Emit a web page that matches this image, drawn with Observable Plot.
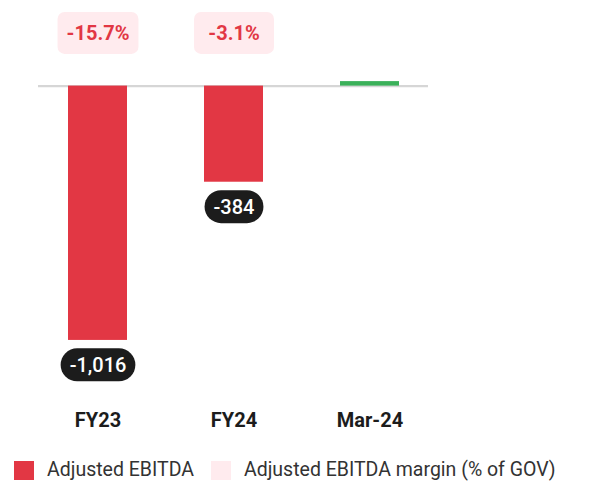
<!DOCTYPE html>
<html>
<head>
<meta charset="utf-8">
<script src="https://cdn.jsdelivr.net/npm/d3@7"></script>
<script src="https://cdn.jsdelivr.net/npm/@observablehq/plot@0.6"></script>
<style>
  html, body { margin: 0; padding: 0; background: #fff; }
  body { width: 590px; height: 481px; overflow: hidden; font-family: Roboto, "Noto Sans", sans-serif; }
  #chart svg { display: block; font-family: Roboto, "Noto Sans", sans-serif; }
  #legend { display: flex; align-items: center; height: 22px; line-height: 22px; margin-top: 9px; padding-left: 14px; font-size: 19.5px; color: #333; white-space: nowrap; }
  #legend .sw { width: 20px; height: 19px; display: inline-block; margin-right: 13px; }
  #legend .item { display: flex; align-items: center; margin-right: 17px; }
</style>
</head>
<body>
<div id="chart"></div>
<div id="legend"></div>
<script>
const categories = ["FY23", "FY24", "Mar-24"];
const ebitda = [-1016, -384, 18];            // Adjusted EBITDA
const margins = [-15.7, -3.1, null];         // Adjusted EBITDA margin (% of GOV)
const seriesNames = ["Adjusted EBITDA", "Adjusted EBITDA margin (% of GOV)"];

const RED = "#e23744", GREEN = "#3bb15a", PINK = "#ffebee", DARK = "#1c1c1c";

const fmt = d3.formatLocale({decimal: ".", thousands: ",", grouping: [3], currency: ["", ""], minus: "-"});
const fmtInt = fmt.format(",");
const fmtPct = v => fmt.format(".1f")(v) + "%";

const data = categories.map((c, i) => ({category: c, value: ebitda[i], margin: margins[i]}));

const chart = Plot.plot({
  width: 590,
  height: 450,
  marginLeft: 38,
  marginRight: 162,
  marginTop: 0,
  marginBottom: 50,
  style: {fontFamily: "Roboto, 'Noto Sans', sans-serif"},
  x: {domain: categories, paddingInner: 0.569, paddingOuter: 0.208, label: null},
  y: {domain: [-1256, 342], axis: null},
  marks: [
    Plot.ruleY([0], {stroke: "#d6d6d6", strokeWidth: 2.4}),
    Plot.barY(data, {x: "category", y: "value", fill: d => d.value < 0 ? RED : GREEN}),
    Plot.text(data.filter(d => d.value < 0), {
      x: "category", y: "value", dy: 25, lineAnchor: "middle", text: d => fmtInt(d.value),
      fill: "#fff", fontSize: 20, fontWeight: 500, className: "pill-label"
    }),
    Plot.text(data.filter(d => d.margin != null), {
      x: "category", frameAnchor: "top", dy: 33, lineAnchor: "middle", text: d => fmtPct(d.margin),
      fill: RED, fontSize: 20, fontWeight: 700, className: "margin-label"
    }),
    Plot.axisX({tickSize: 0, tickPadding: 12, fontSize: 20, fontWeight: 700, fill: DARK, label: null, className: "cat-axis"})
  ]
});
document.getElementById("chart").appendChild(chart);

// Background boxes behind the labels, sized from the rendered text
function addBoxes(selector, fill, padX, padY, rx, minW, minH) {
  chart.querySelectorAll(selector).forEach(t => {
    const b = t.getBBox();
    const w = Math.max(b.width + 2 * padX, minW || 0);
    const h = Math.max(b.height + 2 * padY, minH || 0);
    const r = document.createElementNS("http://www.w3.org/2000/svg", "rect");
    r.setAttribute("x", b.x + b.width / 2 - w / 2);
    r.setAttribute("y", b.y + b.height / 2 - h / 2);
    r.setAttribute("width", w);
    r.setAttribute("height", h);
    r.setAttribute("rx", rx === "pill" ? h / 2 : rx);
    r.setAttribute("fill", fill);
    if (t.getAttribute("transform")) r.setAttribute("transform", t.getAttribute("transform"));
    t.parentNode.insertBefore(r, t);
  });
}
addBoxes(".pill-label text", DARK, 9, 4, "pill", 0, 33);
addBoxes(".margin-label text", PINK, 9, 9, 7, 80, 42);

// Legend
const legend = document.getElementById("legend");
[[seriesNames[0], RED], [seriesNames[1], PINK]].forEach(([name, color]) => {
  const item = document.createElement("span");
  item.className = "item";
  const sw = document.createElement("span");
  sw.className = "sw";
  sw.style.background = color;
  item.appendChild(sw);
  item.appendChild(document.createTextNode(name));
  legend.appendChild(item);
});
</script>
</body>
</html>
